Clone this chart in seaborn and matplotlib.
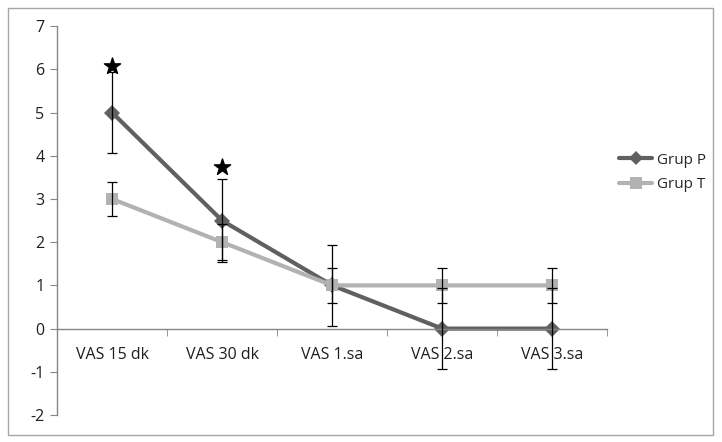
import pandas as pd
import matplotlib.pyplot as plt
import seaborn as sns
from matplotlib.patches import Rectangle

# Data
categories = ['VAS 15 dk', 'VAS 30 dk', 'VAS 1.sa', 'VAS 2.sa', 'VAS 3.sa']
grup_p = [5, 2.5, 1, 0, 0]
grup_t = [3, 2, 1, 1, 1]
grup_p_err = [0.93, 0.97, 0.93, 0.93, 0.93]
grup_t_err = [0.4, 0.42, 0.4, 0.4, 0.4]
star_pos = [0, 1]
star_y = [6.07, 3.75]

colors = {'Grup P': '#606060', 'Grup T': '#b2b2b2'}

df = pd.DataFrame({
    'pos': list(range(len(categories))) * 2,
    'value': grup_p + grup_t,
    'group': ['Grup P'] * len(categories) + ['Grup T'] * len(categories),
})

sns.set_style('white')
plt.rcParams['font.family'] = ['Open Sans', 'DejaVu Sans']
plt.rcParams['axes.unicode_minus'] = False

fig = plt.figure(figsize=(7.22, 4.42), dpi=100)
ax = fig.add_axes([0.079, 0.061, 0.762, 0.880])

sns.lineplot(data=df, x='pos', y='value', hue='group', style='group',
             palette=colors, markers={'Grup P': 'D', 'Grup T': 's'},
             dashes=False, linewidth=3, markersize=8.5, markeredgewidth=0,
             ax=ax, legend=False, zorder=2)

# error bars
x = list(range(len(categories)))
ax.errorbar(x, grup_p, yerr=grup_p_err, fmt='none', ecolor='black',
            elinewidth=0.9, capsize=3.5, capthick=0.9, zorder=3)
ax.errorbar(x, grup_t, yerr=grup_t_err, fmt='none', ecolor='black',
            elinewidth=0.9, capsize=3.5, capthick=0.9, zorder=3)

# significance stars
ax.scatter(star_pos, star_y, marker='*', s=150, color='black', zorder=4)

ax.set_xlim(-0.5, len(categories) - 0.5)
ax.set_ylim(-2, 7)
ax.set_yticks(range(-2, 8))
ax.set_xticks(x)
ax.set_xticklabels(categories)
ax.set_xticks([i + 0.5 for i in x], minor=True)
ax.set_xlabel('')
ax.set_ylabel('')

for s in ['top', 'right']:
    ax.spines[s].set_visible(False)
ax.spines['bottom'].set_position(('data', 0))
for s in ['left', 'bottom']:
    ax.spines[s].set_color('#868686')
    ax.spines[s].set_linewidth(1)

ax.tick_params(axis='x', which='major', length=0, pad=13, labelsize=11.5,
               colors='#1f1f1f')
ax.tick_params(axis='x', which='minor', length=5, color='#868686',
               direction='out', bottom=True)
ax.tick_params(axis='y', length=5, color='#868686', direction='out',
               left=True, labelsize=11.5, colors='#1f1f1f', pad=4)

# legend
handles = [
    plt.Line2D([], [], color=colors['Grup P'], lw=3, marker='D',
               markersize=7, markeredgewidth=0),
    plt.Line2D([], [], color=colors['Grup T'], lw=3, marker='s',
               markersize=8, markeredgewidth=0),
]
fig.legend(handles, ['Grup P', 'Grup T'], loc='center left',
           bbox_to_anchor=(0.838, 0.61), frameon=False, fontsize=11,
           handlelength=2.2, handletextpad=0.3, labelspacing=0.6)

# outer chart border
fig.patches.append(Rectangle((0.011, 0.016), 0.977, 0.966,
                             transform=fig.transFigure, fill=False,
                             edgecolor='#a6a6a6', linewidth=1))

fig.savefig('out.png', dpi=100)
